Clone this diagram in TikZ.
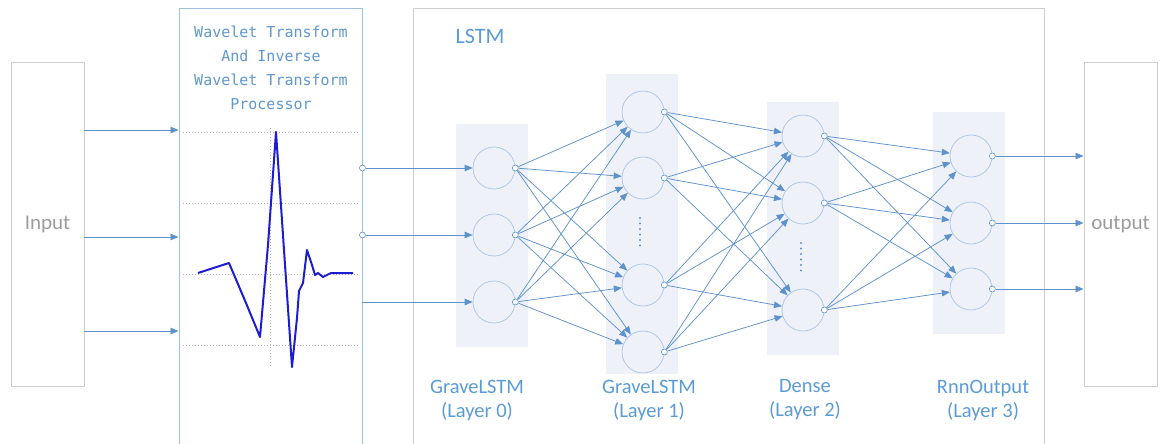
\documentclass[tikz,border=0pt]{standalone}
\usepackage{fontspec}
\setmainfont{Carlito}
\newfontfamily\monofont{DejaVu Sans Mono}
\usetikzlibrary{arrows.meta,positioning}
\definecolor{lineBlue}{HTML}{5E92CC}
\definecolor{ringBlue}{HTML}{A9C3E3}
\definecolor{shade}{HTML}{EEF1F8}
\definecolor{labelBlue}{HTML}{5B9BD5}
\definecolor{titleBlue}{HTML}{5F98D0}
\definecolor{frameGray}{HTML}{CDCDCD}
\definecolor{waveFrame}{HTML}{9DC0E2}
\definecolor{waveInk}{HTML}{1C1CD2}
\definecolor{gridGray}{HTML}{B4B4B4}
\definecolor{ioText}{HTML}{9C9C9C}
\tikzset{
  base/.style={font=\fontsize{20.5}{24}\selectfont, text=labelBlue},
  iobox/.style={draw=frameGray, line width=0.9pt, minimum width=73pt, minimum height=324pt, inner sep=0pt, font=\fontsize{21}{25}\selectfont, text=ioText},
  panel/.style={draw=frameGray, line width=0.9pt, inner sep=0pt},
  column/.style={fill=shade, inner sep=0pt, minimum width=72pt},
  neuron/.style={circle, draw=ringBlue, line width=0.7pt, minimum size=42pt, inner sep=0pt},
  port/.style={circle, draw=lineBlue, fill=white, line width=0.6pt, minimum size=6pt, inner sep=0pt},
  link/.style={-{Triangle[length=8pt,width=6.5pt]}, line width=0.75pt, draw=lineBlue},
  grid/.style={draw=gridGray, line width=0.7pt, dash pattern=on 1pt off 2pt},
  signal/.style={draw=waveInk, line width=2pt, line join=round},
  more/.style={draw=lineBlue, line width=2.2pt, line cap=round, dash pattern=on 0pt off 5.5pt},
  layername/.style={base, align=center},
  title/.style={font=\monofont\fontsize{15}{24}\selectfont, text=titleBlue, align=center},
}

\begin{document}
\begin{tikzpicture}[x=1pt,y=-1pt]
  \useasboundingbox (0,0) rectangle (1161,444);

  % outer frames
  \node[iobox] (input) at (47.5,224) {Input};
  \node[iobox] (output) at (1120.5,224.5) {output};
  \node[panel,draw=waveFrame,minimum width=183pt,minimum height=480pt] (wave) at (270.5,248) {};
  \node[panel,minimum width=631pt,minimum height=480pt] (lstm) at (728.5,248) {};
  \node[title] (wtitle) at (271,68) {Wavelet Transform\\And Inverse\\Wavelet Transform\\Processor};
  \node[base,font=\fontsize{22}{26}\selectfont] (lstmname) at (480,36) {LSTM};

  % wavelet plot
  \draw[grid] (183,132) -- (358,132);
  \draw[grid] (183,203) -- (358,203);
  \draw[grid] (183,274) -- (358,274);
  \draw[grid] (183,345) -- (358,345);
  \draw[grid] (270,128) -- (270,368);
  \draw[signal] (198,273) -- (229,263) -- (246,303) -- (260,337) -- (268,245) -- (276,132)
    -- (284,250) -- (292,367) -- (297,318) -- (299,291) -- (303,283) -- (307,250) -- (312,265)
    -- (315,275) -- (318,273) -- (323,277) -- (331,273) -- (353,273);

  % layer columns
  \node[column,minimum height=223pt] (col0) at (492,235.5) {};
  \node[column,minimum height=300pt] (col1) at (642,224) {};
  \node[column,minimum height=253pt] (col2) at (802.5,228.5) {};
  \node[column,minimum height=222pt] (col3) at (969,223) {};

  % neurons
  \node[neuron] (n0a) at (494,168) {};
  \node[neuron] (n0b) at (494,235) {};
  \node[neuron] (n0c) at (494,302) {};
  \node[neuron] (n1a) at (643,112) {};
  \node[neuron] (n1b) at (643,178) {};
  \node[neuron] (n1c) at (643,285) {};
  \node[neuron] (n1d) at (643,352) {};
  \node[neuron] (n2a) at (803,136) {};
  \node[neuron] (n2b) at (803,203) {};
  \node[neuron] (n2c) at (803,310) {};
  \node[neuron] (n3a) at (971,156) {};
  \node[neuron] (n3b) at (971,223) {};
  \node[neuron] (n3c) at (971,289) {};

  \draw[more] ([xshift=-3pt,yshift=-40pt]n1b.center) -- ([xshift=-3pt,yshift=38pt]n1c.center);
  \draw[more] ([xshift=-2pt,yshift=-40pt]n2b.center) -- ([xshift=-2pt,yshift=38pt]n2c.center);

  % output ports
  \node[port] (w1) at (wave.east |- n0a) {};
  \node[port] (w2) at (wave.east |- n0b) {};
  \node[port] (p0a) at (n0a.east) {};
  \node[port] (p0b) at (n0b.east) {};
  \node[port] (p0c) at (n0c.east) {};
  \node[port] (p1a) at (n1a.east) {};
  \node[port] (p1b) at (n1b.east) {};
  \node[port] (p1c) at (n1c.east) {};
  \node[port] (p1d) at (n1d.east) {};
  \node[port] (p2a) at (n2a.east) {};
  \node[port] (p2b) at (n2b.east) {};
  \node[port] (p2c) at (n2c.east) {};
  \node[port] (p3a) at (n3a.east) {};
  \node[port] (p3b) at (n3b.east) {};
  \node[port] (p3c) at (n3c.east) {};

  % input -> processor -> layer 0
  \draw[link] (input.east |- 0,130) -- (wave.west |- 0,130);
  \draw[link] (input.east |- 0,237) -- (wave.west |- 0,237);
  \draw[link] (input.east |- 0,331) -- (wave.west |- 0,331);
  \draw[link] (w1) -- (n0a);
  \draw[link] (w2) -- (n0b);
  \draw[link] (wave.east |- n0c) -- (n0c);

  % layer 0 -> layer 1
  \draw[link] (p0a) -- (n1a);
  \draw[link] (p0a) -- (n1b);
  \draw[link] (p0a) -- (n1c);
  \draw[link] (p0a) -- (n1d);
  \draw[link] (p0b) -- (n1a);
  \draw[link] (p0b) -- (n1b);
  \draw[link] (p0b) -- (n1c);
  \draw[link] (p0b) -- (n1d);
  \draw[link] (p0c) -- (n1a);
  \draw[link] (p0c) -- (n1b);
  \draw[link] (p0c) -- (n1c);
  \draw[link] (p0c) -- (n1d);

  % layer 1 -> layer 2
  \draw[link] (p1a) -- (n2a);
  \draw[link] (p1a) -- (n2b);
  \draw[link] (p1a) -- (n2c);
  \draw[link] (p1b) -- (n2a);
  \draw[link] (p1b) -- (n2b);
  \draw[link] (p1b) -- (n2c);
  \draw[link] (p1c) -- (n2a);
  \draw[link] (p1c) -- (n2b);
  \draw[link] (p1c) -- (n2c);
  \draw[link] (p1d) -- (n2a);
  \draw[link] (p1d) -- (n2b);
  \draw[link] (p1d) -- (n2c);

  % layer 2 -> layer 3
  \draw[link] (p2a) -- (n3a);
  \draw[link] (p2a) -- (n3b);
  \draw[link] (p2a) -- (n3c);
  \draw[link] (p2b) -- (n3a);
  \draw[link] (p2b) -- (n3b);
  \draw[link] (p2b) -- (n3c);
  \draw[link] (p2c) -- (n3a);
  \draw[link] (p2c) -- (n3b);
  \draw[link] (p2c) -- (n3c);

  % layer 3 -> output
  \draw[link] (p3a) -- (output.west |- p3a);
  \draw[link] (p3b) -- (output.west |- p3b);
  \draw[link] (p3c) -- (output.west |- p3c);

  % layer names
  \node[layername] (name0) at (477,400) {GraveLSTM\\(Layer 0)};
  \node[layername] (name1) at (649,400) {GraveLSTM\\(Layer 1)};
  \node[layername] (name2) at (805,400) {Dense\\(Layer 2)};
  \node[layername] (name3) at (983,400) {RnnOutput\\(Layer 3)};
\end{tikzpicture}
\end{document}
